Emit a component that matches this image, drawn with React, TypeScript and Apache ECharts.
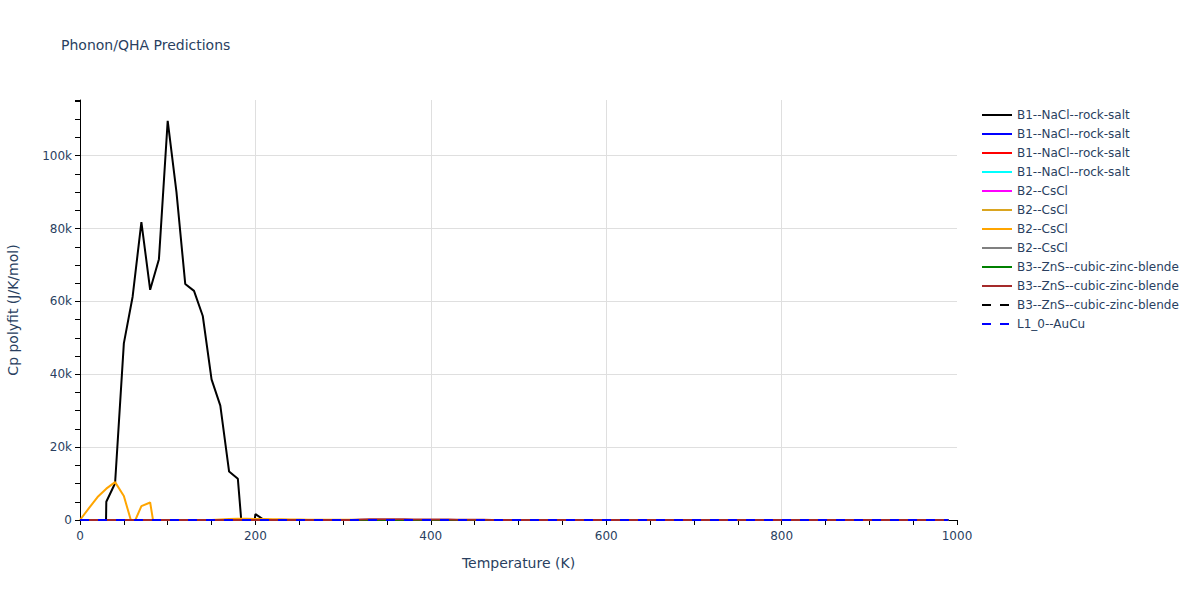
import React, { useEffect, useRef } from "react";
import * as echarts from "echarts";

const FONT = '"DejaVu Sans", Verdana, sans-serif';
const TEXT_COLOR = "#2a3f5f";

const temperatures = [
  0, 10, 20, 30, 40, 50, 60, 70, 80, 90,
  100, 110, 120, 130, 140, 150, 160, 170, 180, 190,
  200, 210, 220, 230, 240, 250, 260, 270, 280, 290,
  300, 310, 320, 330, 340, 350, 360, 370, 380, 390,
  400, 410, 420, 430, 440, 450, 460, 470, 480, 490,
  500, 510, 520, 530, 540, 550, 560, 570, 580, 590,
  600, 610, 620, 630, 640, 650, 660, 670, 680, 690,
  700, 710, 720, 730, 740, 750, 760, 770, 780, 790,
  800, 810, 820, 830, 840, 850, 860, 870, 880, 890,
  900, 910, 920, 930, 940, 950, 960, 970, 980, 990,
];

// B1--NaCl--rock-salt (black) Cp values, J/K/mol
const b1NaClBlack = [
  0, -60000, -150000, 5000, 10100, 48500, 61300, 81800, 63200, 71600,
  109600, 90000, 64800, 62900, 56000, 38600, 31400, 13300, 11300, -18000,
  1600, 0, 0, 0, 0, 0, 0, 0, 0, 0,
  0, 0, 0, 0, 0, 0, 0, 0, 0, 0,
  0, 0, 0, 0, 0, 0, 0, 0, 0, 0,
  0, 0, 0, 0, 0, 0, 0, 0, 0, 0,
  0, 0, 0, 0, 0, 0, 0, 0, 0, 0,
  0, 0, 0, 0, 0, 0, 0, 0, 0, 0,
  0, 0, 0, 0, 0, 0, 0, 0, 0, 0,
  0, 0, 0, 0, 0, 0, 0, 0, 0, 0,
];

// B2--CsCl (orange)
const b2CsClOrange = [
  0, 3200, 6300, 8600, 10400, 6600, -1700, 3800, 4800, -10000,
  -2000, -500, -300, -200, -100, 0, 150, 300, 350, 350,
  300, 250, 200, 200, 150, 150, 100, 100, 100, 100,
  100, 50, 0, 0, 0, 0, 0, 0, 0, 0,
  0, 0, 0, 0, 0, 0, 0, 0, 0, 0,
  0, 0, 0, 0, 0, 0, 0, 0, 0, 0,
  0, 0, 0, 0, 0, 0, 0, 0, 0, 0,
  0, 0, 0, 0, 0, 0, 0, 0, 0, 0,
  0, 0, 0, 0, 0, 0, 0, 0, 0, 0,
  0, 0, 0, 0, 0, 0, 0, 0, 0, 0,
];

// B3--ZnS--cubic-zinc-blende (brown)
const b3ZnSBrown = [
  0, 0, 0, 0, 0, 0, 0, 0, 0, 0,
  0, 0, 0, 0, 0, 0, 0, 0, 0, 0,
  0, 0, 0, 0, 0, 0, 0, 0, 0, 0,
  0, 0, 120, 180, 200, 200, 190, 180, 170, 150,
  140, 120, 110, 100, 80, 60, 40, 20, 0, 0,
  0, 0, 0, 0, 0, 0, 0, 0, 0, 0,
  0, 0, 0, 0, 0, 0, 0, 0, 0, 0,
  0, 0, 0, 0, 0, 0, 0, 0, 0, 0,
  0, 0, 0, 0, 0, 0, 0, 0, 0, 0,
  0, 0, 0, 0, 0, 0, 0, 0, 0, 0,
];

// Series that stay on the zero line over the whole range
const flatNearZero = [
  0, 0, 0, 0, 0, 0, 0, 0, 0, 0,
  0, 0, 0, 0, 0, 0, 0, 0, 0, 0,
  0, 0, 0, 0, 0, 0, 0, 0, 0, 0,
  0, 0, 0, 0, 0, 0, 0, 0, 0, 0,
  0, 0, 0, 0, 0, 0, 0, 0, 0, 0,
  0, 0, 0, 0, 0, 0, 0, 0, 0, 0,
  0, 0, 0, 0, 0, 0, 0, 0, 0, 0,
  0, 0, 0, 0, 0, 0, 0, 0, 0, 0,
  0, 0, 0, 0, 0, 0, 0, 0, 0, 0,
  0, 0, 0, 0, 0, 0, 0, 0, 0, 0,
];

const seriesNames = [
  "B1--NaCl--rock-salt",
  "B1--NaCl--rock-salt",
  "B1--NaCl--rock-salt",
  "B1--NaCl--rock-salt",
  "B2--CsCl",
  "B2--CsCl",
  "B2--CsCl",
  "B2--CsCl",
  "B3--ZnS--cubic-zinc-blende",
  "B3--ZnS--cubic-zinc-blende",
  "B3--ZnS--cubic-zinc-blende",
  "L1_0--AuCu",
];

const seriesValues = [
  b1NaClBlack,
  flatNearZero,
  flatNearZero,
  flatNearZero,
  flatNearZero,
  flatNearZero,
  b2CsClOrange,
  flatNearZero,
  flatNearZero,
  b3ZnSBrown,
  flatNearZero,
  flatNearZero,
];

const seriesColors = [
  "#000000", "#0000ff", "#ff0000", "#00ffff",
  "#ff00ff", "#daa520", "#ffa500", "#808080",
  "#008000", "#a52a2a", "#000000", "#0000ff",
];

const seriesDashed = [
  false, false, false, false,
  false, false, false, false,
  false, false, true, true,
];

const xTicks = { min: 0, max: 1000, interval: 200 };
const yTicks = { min: 0, max: 115300, labelInterval: 20000, tickInterval: 5000 };

const DASH = [9, 9];

export default function App() {
  const ref = useRef<HTMLDivElement | null>(null);

  useEffect(() => {
    if (!ref.current) return;
    const chart = echarts.init(ref.current, undefined, { renderer: "svg" });

    const series = seriesNames.map((name, i) => ({
      name: `${name}|${i}`,
      type: "line",
      yAxisIndex: 0,
      symbol: "none",
      showSymbol: false,
      clip: true,
      data: temperatures.map((t, k) => [t, seriesValues[i][k]]),
      lineStyle: {
        color: seriesColors[i],
        width: 2,
        type: seriesDashed[i] ? DASH : "solid",
      },
      itemStyle: { color: seriesColors[i] },
      emphasis: { disabled: true },
    }));

    const option: any = {
      animation: false,
      backgroundColor: "#ffffff",
      textStyle: { fontFamily: FONT },
      title: {
        text: "Phonon/QHA Predictions",
        left: 56,
        top: 33,
        textStyle: {
          fontFamily: FONT,
          fontSize: 14,
          fontWeight: "normal",
          color: TEXT_COLOR,
        },
      },
      legend: {
        orient: "vertical",
        left: 976,
        top: 104,
        itemWidth: 30,
        itemHeight: 14,
        itemGap: 7,
        itemStyle: { opacity: 0, borderWidth: 0 },
        formatter: (n: string) => n.replace(/\|\d+$/, ""),
        textStyle: { fontFamily: FONT, fontSize: 12, color: TEXT_COLOR },
        data: seriesNames.map((n, i) => ({
          name: `${n}|${i}`,
          itemStyle: { opacity: 0, borderWidth: 0 },
          lineStyle: {
            color: seriesColors[i],
            width: 2,
            type: seriesDashed[i] ? DASH : "solid",
          },
        })),
      },
      grid: { left: 80, right: 243, top: 100, bottom: 80, outerBoundsMode: "none", containLabel: false },
      xAxis: {
        type: "value",
        min: xTicks.min,
        max: xTicks.max,
        interval: xTicks.interval,
        name: "Temperature (K)",
        nameLocation: "middle",
        nameGap: 36,
        nameTextStyle: { fontFamily: FONT, fontSize: 14, color: TEXT_COLOR },
        axisLine: { show: true, onZero: false, lineStyle: { color: "#000", width: 1 } },
        axisTick: { show: true, length: 5, lineStyle: { color: "#000" } },
        minorTick: { show: true, splitNumber: 4, length: 5, lineStyle: { color: "#000" } },
        axisLabel: {
          margin: 10,
          fontFamily: FONT,
          fontSize: 12,
          color: TEXT_COLOR,
          formatter: (v: number) => String(v),
        },
        splitLine: {
          show: true,
          showMinLine: false,
          showMaxLine: false,
          lineStyle: { color: "#dfdfdf", width: 1 },
        },
      },
      yAxis: [
        {
          type: "value",
          min: yTicks.min,
          max: yTicks.max,
          interval: yTicks.labelInterval,
          position: "left",
          name: "Cp polyfit (J/K/mol)",
          nameLocation: "middle",
          nameGap: 60,
          nameTextStyle: { fontFamily: FONT, fontSize: 14, color: TEXT_COLOR },
          axisLine: { show: true, onZero: false, lineStyle: { color: "#000", width: 1 } },
          axisTick: { show: false },
          axisLabel: {
            margin: 8,
            showMaxLabel: false,
            fontFamily: FONT,
            fontSize: 12,
            color: TEXT_COLOR,
            formatter: (v: number) => (v === 0 ? "0" : `${v / 1000}k`),
          },
          splitLine: {
            show: true,
            showMaxLine: false,
            lineStyle: { color: "#dfdfdf", width: 1 },
          },
        },
        {
          type: "value",
          min: yTicks.min,
          max: yTicks.max,
          interval: yTicks.tickInterval,
          position: "left",
          axisLine: { show: false },
          axisTick: { show: true, length: 5, lineStyle: { color: "#000" } },
          axisLabel: { show: false },
          splitLine: { show: false },
        },
      ],
      series,
    };

    chart.setOption(option);
    return () => chart.dispose();
  }, []);

  return (
    <div
      ref={ref}
      style={{ position: "fixed", left: 0, top: 0, width: 1200, height: 600 }}
    />
  );
}
